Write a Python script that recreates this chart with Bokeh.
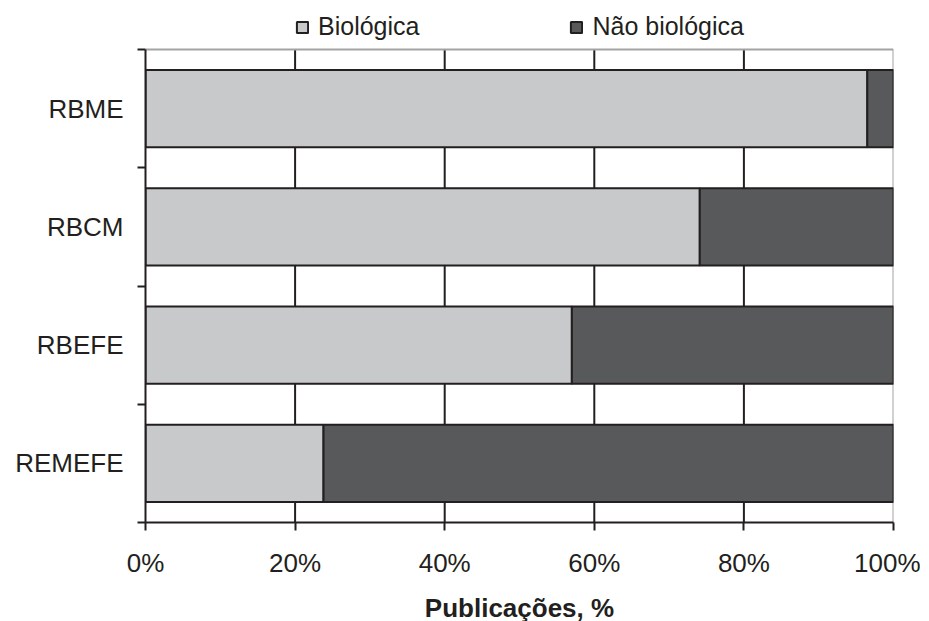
from bokeh.plotting import figure
from bokeh.models import ColumnDataSource, FixedTicker, PrintfTickFormatter, Legend, LegendItem, Range1d
from bokeh.embed import file_html
from bokeh.resources import INLINE

# Data (top to bottom as in the chart)
categories = ["RBME", "RBCM", "RBEFE", "REMEFE"]
biologica = [96.5, 74.1, 57.0, 23.8]
nao_biologica = [3.5, 25.9, 43.0, 76.2]
series_names = ["Biológica", "Não biológica"]
x_ticks = [0, 20, 40, 60, 80, 100]

n = len(categories)
ypos = [n - 0.5 - i for i in range(n)]

FONT = "Liberation Sans"
DARK = "#231f20"
GREY = "#a3a3a3"

PLOT_H = 473          # pixel height of the bar area
TOP_H = 48            # pixel room above for the legend
y_top = n + n * TOP_H / PLOT_H

src = ColumnDataSource(dict(y=ypos, cat=categories, bio=biologica, nbio=nao_biologica))

p = figure(frame_width=748, frame_height=PLOT_H + TOP_H, output_backend="svg", toolbar_location=None,
           x_range=Range1d(0, 100), y_range=Range1d(0, y_top),
           min_border_left=145, min_border_right=27, min_border_top=1, min_border_bottom=60)
p.outline_line_color = None
p.xgrid.grid_line_color = None
p.ygrid.grid_line_color = None

inner = x_ticks[1:-1]
# vertical gridlines (behind bars)
p.segment(x0=inner, y0=[0] * len(inner), x1=inner, y1=[n] * len(inner), line_color=DARK, line_width=2)
# top and right plot border
p.segment(x0=[x_ticks[0], x_ticks[-1]], y0=[n, 0], x1=[x_ticks[-1], x_ticks[-1]], y1=[n, n],
          line_color=GREY, line_width=2)

r_stack = p.hbar_stack(["bio", "nbio"], y="y", height=0.655, source=src,
                       fill_color=["#c8c9cb", "#58595b"], line_color=DARK, line_width=2)

# x axis
p.xaxis.ticker = FixedTicker(ticks=x_ticks)
p.xaxis.formatter = PrintfTickFormatter(format="%d%%")
p.xaxis.major_tick_out = 8
p.xaxis.major_tick_in = 0
p.xaxis.minor_tick_line_color = None
p.xaxis.axis_line_color = DARK
p.xaxis.axis_line_width = 2
p.xaxis.major_tick_line_color = DARK
p.xaxis.major_tick_line_width = 2
p.xaxis.major_label_text_font = FONT
p.xaxis.major_label_text_font_size = "26px"
p.xaxis.major_label_text_color = DARK
p.xaxis.major_label_standoff = 17
p.xaxis.axis_label = "Publicações, %"
p.xaxis.axis_label_text_font = FONT
p.xaxis.axis_label_text_font_size = "26px"
p.xaxis.axis_label_text_font_style = "bold"
p.xaxis.axis_label_text_color = DARK
p.xaxis.axis_label_standoff = 12

# y axis: labels at category centres, ticks at category boundaries
p.yaxis.bounds = (0, n)
p.yaxis.ticker = FixedTicker(ticks=ypos, minor_ticks=list(range(n + 1)))
p.yaxis.major_label_overrides = {y: c for y, c in zip(ypos, categories)}
p.yaxis.major_tick_line_color = None
p.yaxis.major_tick_out = 0
p.yaxis.major_tick_in = 0
p.yaxis.minor_tick_out = 8
p.yaxis.minor_tick_in = 0
p.yaxis.minor_tick_line_color = DARK
p.yaxis.minor_tick_line_width = 2
p.yaxis.axis_line_color = DARK
p.yaxis.axis_line_width = 2
p.yaxis.major_label_text_font = FONT
p.yaxis.major_label_text_font_size = "26px"
p.yaxis.major_label_text_color = DARK
p.yaxis.major_label_standoff = 14

legend = Legend(items=[LegendItem(label=series_names[0], renderers=[r_stack[0]]),
                       LegendItem(label=series_names[1], renderers=[r_stack[1]])],
                orientation="horizontal", location=(150, PLOT_H + TOP_H - 40),
                label_text_font=FONT, label_text_font_size="25px", label_text_color=DARK,
                glyph_width=14, glyph_height=14, label_standoff=9, spacing=150,
                padding=0, margin=0, border_line_color=None, background_fill_alpha=0)
p.add_layout(legend, "center")

open("out.html", "w").write(file_html(p, INLINE))
